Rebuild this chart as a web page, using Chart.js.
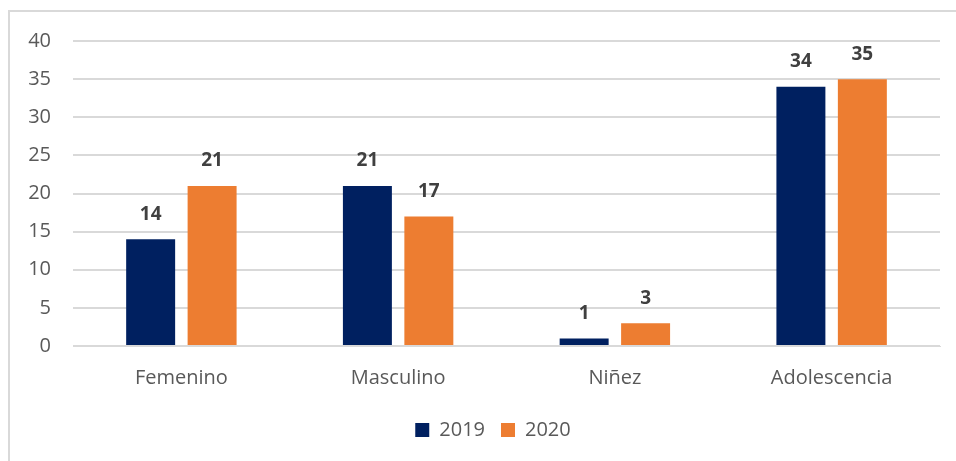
<!DOCTYPE html>
<html>
<head>
<meta charset="utf-8">
<script src="https://cdn.jsdelivr.net/npm/chart.js@4"></script>
<style>
  html, body { margin: 0; padding: 0; background: #fff; }
  #wrap { position: relative; width: 956px; height: 461px; overflow: hidden; }
  #frame { position: absolute; left: 8px; top: 10px; width: 1000px; height: 500px;
           border: 2px solid #d9d9d9; box-sizing: border-box; }
  canvas { position: absolute; left: 0; top: 0; }
</style>
</head>
<body>
<div id="wrap">
  <div id="frame"></div>
  <canvas id="chart" width="956" height="461"></canvas>
</div>
<script>
// ── Data ───────────────────────────────────────────────
const categories = ["Femenino", "Masculino", "Niñez", "Adolescencia"];
const values2019 = [14, 21, 1, 34];
const values2020 = [21, 17, 3, 35];
const yTicks     = [0, 5, 10, 15, 20, 25, 30, 35, 40];

const COLORS = {
  navy:   "#002060",
  orange: "#ED7D31",
  grid:   "#d9d9d9",
  tick:   "#595959",
  label:  "#404040",
};
const FONT = "'Open Sans', sans-serif";

// ── Value labels above bars ────────────────────────────
const barLabels = {
  id: "barLabels",
  afterDatasetsDraw(chart) {
    const { ctx } = chart;
    ctx.save();
    ctx.font = "bold 19px " + FONT;
    ctx.fillStyle = COLORS.label;
    ctx.textAlign = "center";
    ctx.textBaseline = "middle";
    chart.data.datasets.forEach((ds, i) => {
      chart.getDatasetMeta(i).data.forEach((bar, j) => {
        ctx.fillText(ds.data[j], bar.x, bar.y - 25);
      });
    });
    ctx.restore();
  }
};

// legend sits centred under the plot area, not the canvas
const legendShift = {
  id: "legendShift",
  afterLayout(chart) {
    const lg = chart.legend;
    if (!lg) return;
    lg.left += 23;
    lg.right += 23;
  }
};

new Chart(document.getElementById("chart"), {
  type: "bar",
  data: {
    labels: categories,
    datasets: [
      { label: "2019", data: values2019, backgroundColor: COLORS.navy },
      { label: "2020", data: values2020, backgroundColor: COLORS.orange },
    ]
  },
  options: {
    responsive: false,
    animation: false,
    categoryPercentage: 0.567,
    barPercentage: 0.797,
    layout: { padding: { left: 0, right: 16, top: 41, bottom: 11 } },
    plugins: {
      tooltip: { enabled: false },
      legend: {
        position: "bottom",
        labels: {
          color: COLORS.tick,
          font: { family: FONT, size: 20 },
          boxWidth: 14,
          boxHeight: 14,
          padding: 16,
        }
      }
    },
    scales: {
      x: {
        grid: { display: false },
        border: { color: COLORS.grid },
        ticks: { color: COLORS.tick, font: { family: FONT, size: 20 }, padding: 12 },
        afterFit: s => { s.height = 58; }
      },
      y: {
        min: 0, max: 40,
        afterBuildTicks: s => { s.ticks = yTicks.map(v => ({ value: v })); },
        grid: { color: COLORS.grid, lineWidth: 2, drawTicks: false },
        border: { display: false },
        ticks: { color: COLORS.tick, font: { family: FONT, size: 20 }, padding: 22 },
        afterFit: s => { s.width = 73; }
      }
    }
  },
  plugins: [barLabels, legendShift]
});
</script>
</body>
</html>
